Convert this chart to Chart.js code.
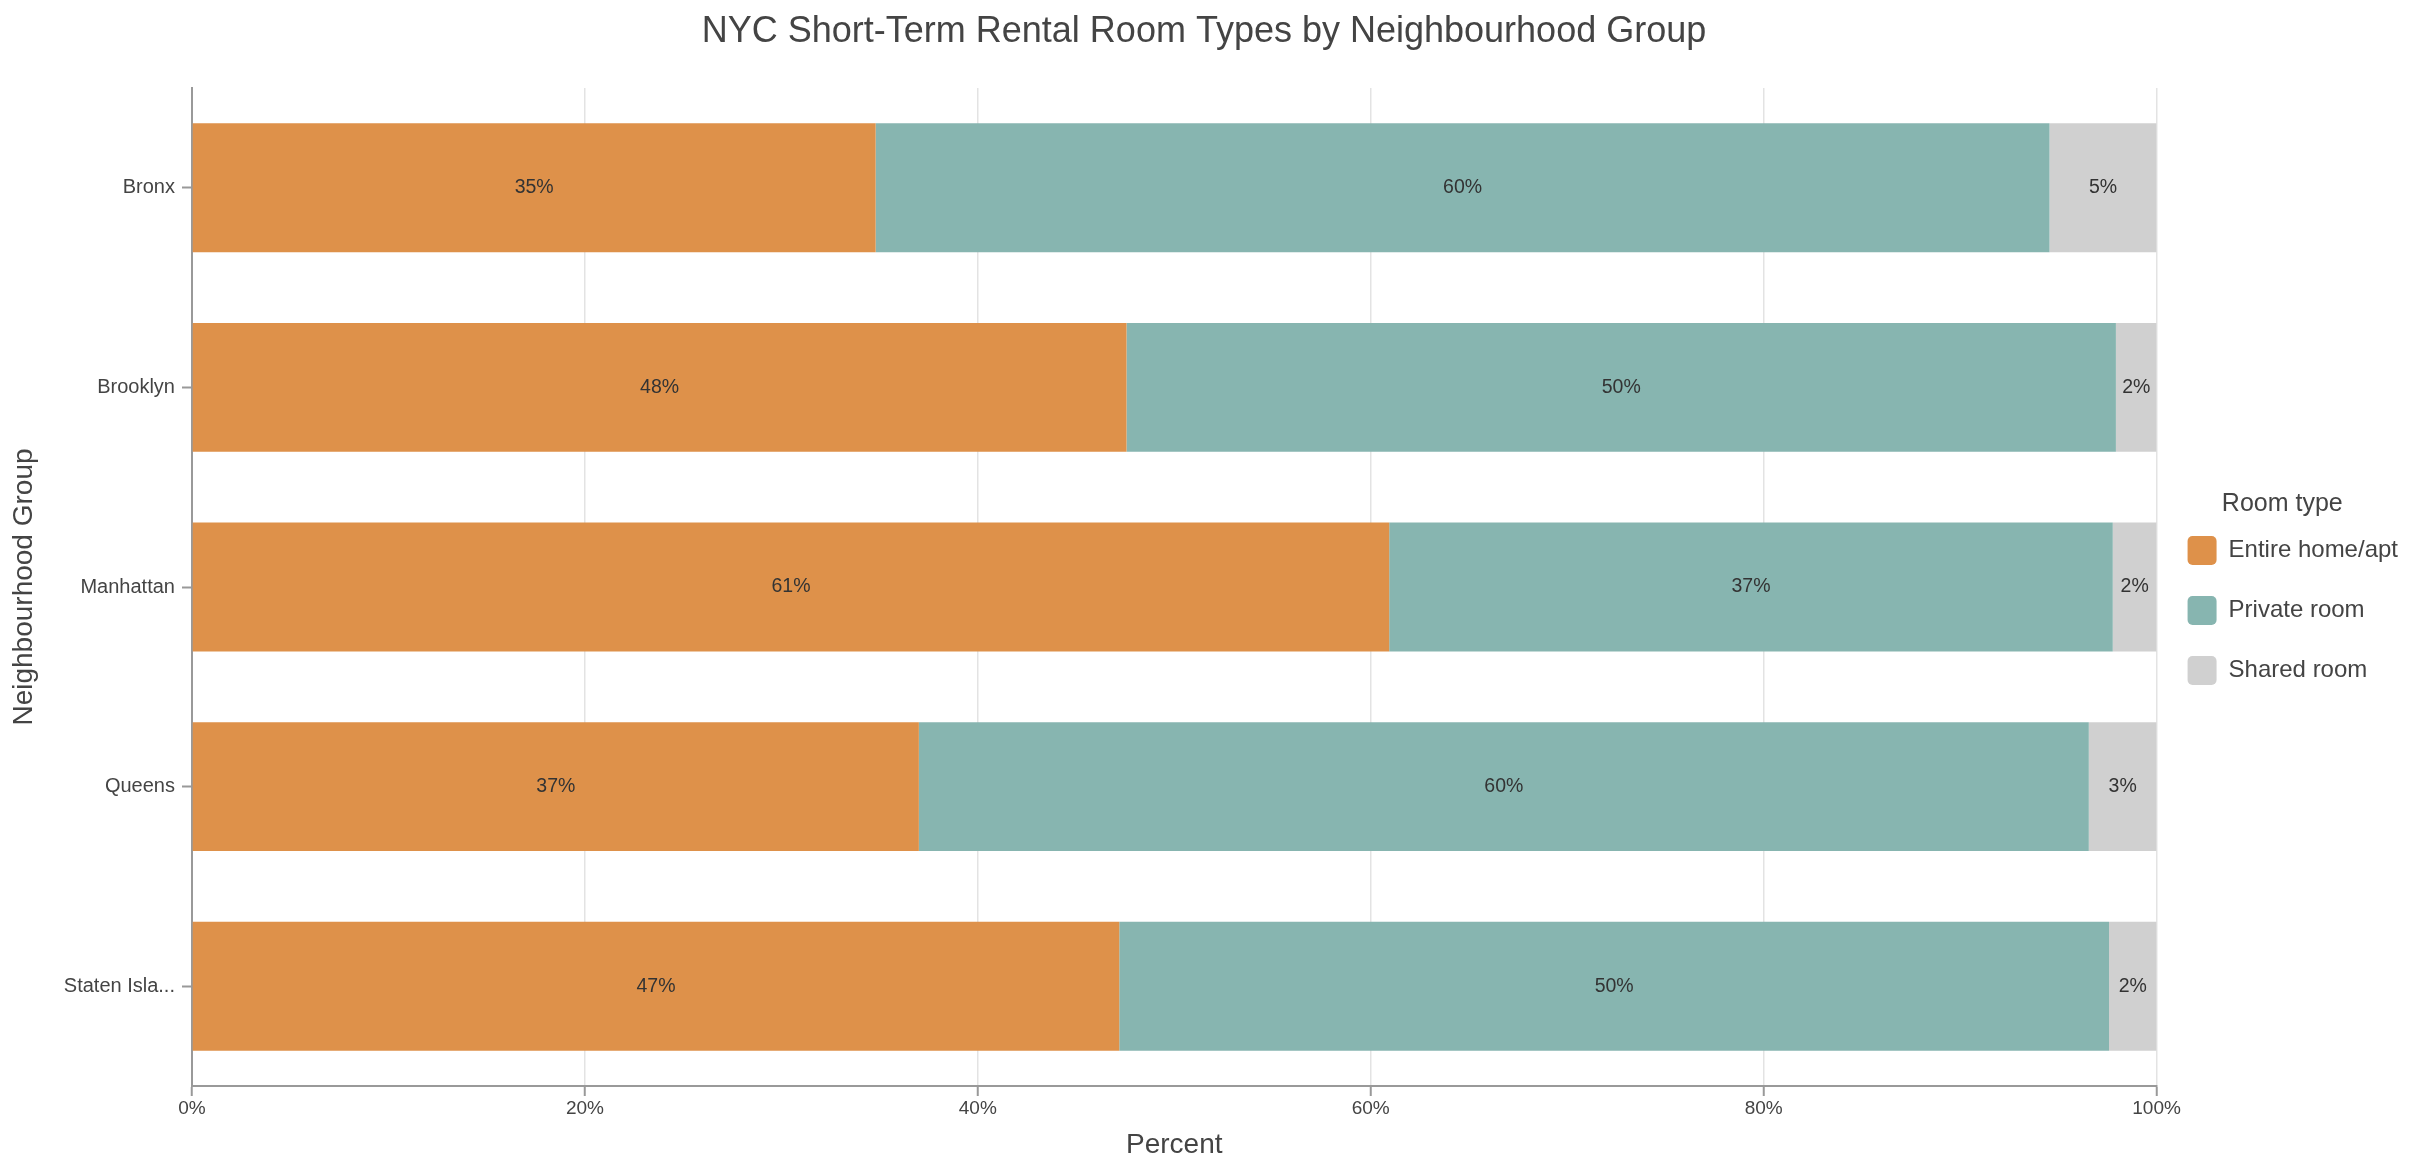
<!DOCTYPE html>
<html>
<head>
<meta charset="utf-8">
<title>NYC Short-Term Rental Room Types</title>
<script src="https://cdn.jsdelivr.net/npm/chart.js@4.4.1/dist/chart.umd.min.js"></script>
<style>
  html, body { margin: 0; padding: 0; background: #fff; }
  #wrap { width: 2426px; height: 1170px; }
</style>
</head>
<body>
<div id="wrap"><canvas id="myChart"></canvas></div>
<script>
// neighbourhood groups (y axis)
const groups = ["Bronx", "Brooklyn", "Manhattan", "Queens", "Staten Island"];

// share of listings per room type, in percent
const entireHome = [34.8, 47.57, 60.94, 37.0, 47.2];
const privateRoom = [59.75, 50.36, 36.83, 59.55, 50.38];
const sharedRoom = [5.45, 2.07, 2.23, 3.45, 2.42];

const xTicks = [0, 20, 40, 60, 80, 100];

const FONT = "'Liberation Sans', Arial, Helvetica, sans-serif";
const TEXT = "#444";

// percent labels in the middle of each segment
const segmentLabels = {
  id: "segmentLabels",
  afterDatasetsDraw(chart) {
    const ctx = chart.ctx;
    ctx.save();
    ctx.font = "19.5px " + FONT;
    ctx.fillStyle = "#333";
    ctx.textAlign = "center";
    ctx.textBaseline = "middle";
    chart.data.datasets.forEach((ds, i) => {
      const meta = chart.getDatasetMeta(i);
      if (meta.hidden) return;
      meta.data.forEach((bar, j) => {
        const p = bar.getCenterPoint();
        ctx.fillText(Math.round(ds.data[j]) + "%", p.x, p.y);
      });
    });
    ctx.restore();
  }
};

window.onload = function() {
  const ctx = document.getElementById("myChart").getContext("2d");

  const data = {
    labels: groups,
    datasets: [
      { label: "Entire home/apt", data: entireHome, backgroundColor: "#de914a" },
      { label: "Private room", data: privateRoom, backgroundColor: "#87b5b0" },
      { label: "Shared room", data: sharedRoom, backgroundColor: "#d0d0d0" }
    ]
  };
  data.datasets.forEach(d => {
    d.borderWidth = 0;
    d.barPercentage = 0.646;
    d.categoryPercentage = 1;
  });

  new Chart(ctx, {
    type: "bar",
    data: data,
    options: {
      indexAxis: "y",
      responsive: true,
      maintainAspectRatio: false,
      animation: false,
      layout: { padding: { left: 0, right: 18, top: 0, bottom: 0 } },
      scales: {
        x: {
          stacked: true,
          min: 0,
          max: 100,
          afterBuildTicks: axis => { axis.ticks = xTicks.map(v => ({ value: v })); },
          ticks: {
            callback: v => v + "%",
            font: { family: FONT, size: 19 },
            color: TEXT,
            padding: 1
          },
          grid: {
            color: "#e3e3e3",
            lineWidth: 1.5,
            tickColor: "#999",
            tickLength: 10,
            tickWidth: 2
          },
          border: { color: "#999", width: 2 },
          title: {
            display: true,
            text: "Percent",
            font: { family: FONT, size: 28 },
            color: TEXT,
            padding: { top: 7.6, bottom: 8 }
          }
        },
        y: {
          stacked: true,
          ticks: {
            callback: function(v) {
              const s = this.getLabelForValue(v);
              return s.length > 12 ? s.slice(0, 11) + "..." : s;
            },
            font: { family: FONT, size: 20 },
            color: TEXT,
            padding: 7
          },
          grid: {
            offset: false,
            drawOnChartArea: false,
            tickColor: "#999",
            tickLength: 10,
            tickWidth: 2
          },
          border: { color: "#999", width: 2 },
          title: {
            display: true,
            text: "Neighbourhood Group",
            font: { family: FONT, size: 28 },
            color: TEXT,
            padding: { top: 7.7, bottom: 15.5 }
          }
        }
      },
      plugins: {
        title: {
          display: true,
          text: "NYC Short-Term Rental Room Types by Neighbourhood Group",
          font: { family: FONT, size: 36, weight: "normal" },
          color: TEXT,
          padding: { top: 10, bottom: 34.8 }
        },
        legend: {
          position: "right",
          fullSize: false,
          title: {
            display: true,
            text: "Room type",
            font: { family: FONT, size: 25 },
            color: TEXT,
            padding: { top: 33.5, bottom: -16.5 }
          },
          labels: {
            boxWidth: 29,
            boxHeight: 29,
            padding: 31,
            useBorderRadius: true,
            borderRadius: 5,
            font: { family: FONT, size: 24 },
            color: TEXT
          }
        },
        tooltip: { enabled: false }
      }
    },
    plugins: [segmentLabels]
  });
};
</script>
</body>
</html>
